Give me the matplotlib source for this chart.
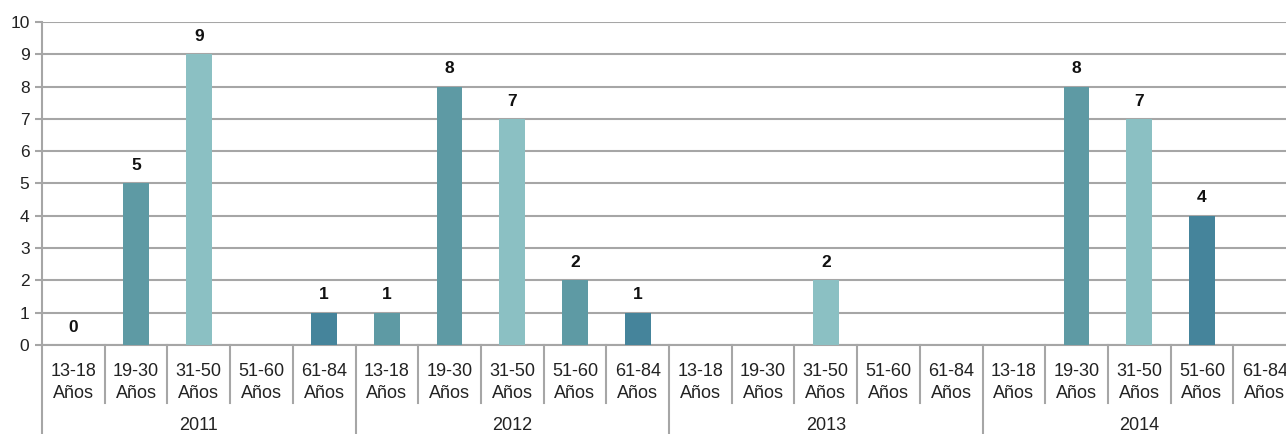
import matplotlib
matplotlib.use("Agg")
import matplotlib.pyplot as plt
import numpy as np
from matplotlib.transforms import blended_transform_factory

years = ["2011", "2012", "2013", "2014"]
age_groups = ["13-18\nAños", "19-30\nAños", "31-50\nAños", "51-60\nAños", "61-84\nAños"]
nan = np.nan
values_2011 = [0, 5, 9, nan, 1]
values_2012 = [1, 8, 7, 2, 1]
values_2013 = [nan, nan, 2, nan, nan]
values_2014 = [nan, 8, 7, 4, nan]

MID, LIGHT, DARK = "#5E9AA4", "#8BC0C3", "#45849B"
colors_2011 = [MID, MID, LIGHT, MID, DARK]
colors_2012 = [MID, MID, LIGHT, MID, DARK]
colors_2013 = [MID, MID, LIGHT, MID, DARK]
colors_2014 = [MID, MID, LIGHT, DARK, DARK]

values = values_2011 + values_2012 + values_2013 + values_2014
colors = colors_2011 + colors_2012 + colors_2013 + colors_2014
labels = age_groups * len(years)

plt.rcParams['font.family'] = ['Liberation Sans Narrow', 'Liberation Sans', 'DejaVu Sans']

W, H = 1286, 434
fig = plt.figure(figsize=(W / 100, H / 100), dpi=100)
ax = fig.add_axes([42 / W, 89 / H, 1254 / W, 323 / H])

x = np.arange(len(values))
vals = np.array(values, dtype=float)
ax.bar(x, np.nan_to_num(vals), width=0.41, color=colors, zorder=3)
for xi, v in zip(x, vals):
    if not np.isnan(v):
        ax.text(xi, v + 0.32, f"{int(v)}", ha="center", va="bottom",
                fontsize=12.5, fontweight="bold", color="#111111", zorder=4)

ax.set_xlim(-0.5, len(values) - 0.5)
ax.set_ylim(0, 10)
ax.set_yticks(range(0, 11))
ax.yaxis.grid(True, color="#A6A6A6", linewidth=1.5, zorder=0)
ax.set_axisbelow(True)
for s in ["top", "right"]:
    ax.spines[s].set_visible(False)
ax.spines["left"].set_color("#A6A6A6")
ax.spines["left"].set_linewidth(1.5)
ax.spines["bottom"].set_color("#A6A6A6")
ax.spines["bottom"].set_linewidth(1.5)
ax.tick_params(axis="y", length=5, width=1.5, color="#A6A6A6", labelsize=12.5, pad=4,
               labelcolor="#222222")
ax.set_xticks(x)
ax.set_xticklabels(labels, fontsize=13, color="#222222", linespacing=1.35)
ax.tick_params(axis="x", length=0, pad=13)

# left spine extends to bottom of figure
ax.plot([-0.5, -0.5], [0, -89 / 323 * 10], color="#A6A6A6", lw=1.5, clip_on=False,
        transform=ax.transData)

trans = blended_transform_factory(ax.transData, ax.transAxes)
n = len(age_groups)
for i in range(1, len(values)):
    xb = i - 0.5
    if i % n == 0:
        ax.plot([xb, xb], [0, -89 / 323], color="#A6A6A6", lw=1.5, clip_on=False, transform=trans)
    else:
        ax.plot([xb, xb], [0, -58 / 323], color="#A6A6A6", lw=1.5, clip_on=False, transform=trans)

for j, yr in enumerate(years):
    ax.text(j * n + (n - 1) / 2, -80 / 323, yr, transform=trans, ha="center", va="center",
            fontsize=13, color="#222222")

fig.savefig("out.png", dpi=100)
